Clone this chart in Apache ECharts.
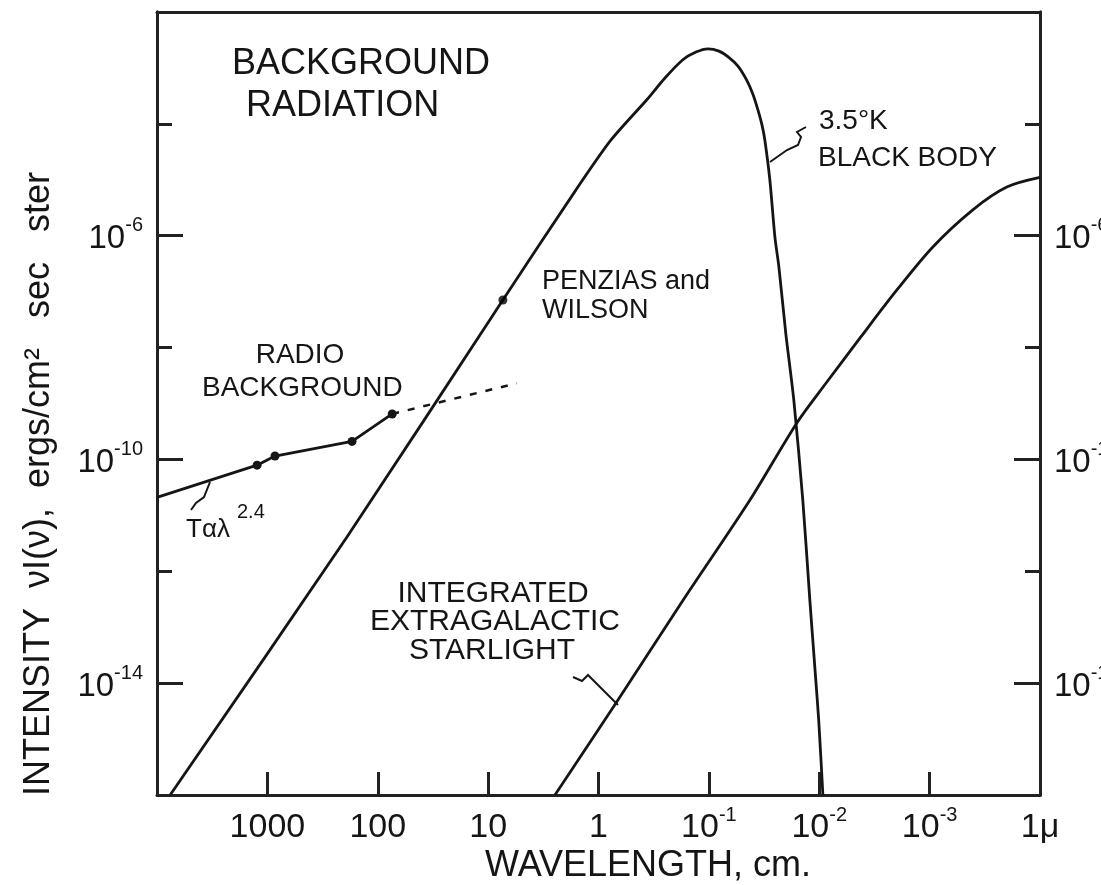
<!DOCTYPE html>
<html><head><meta charset="utf-8">
<script src="https://cdn.jsdelivr.net/npm/echarts@6/dist/echarts.min.js"></script>
<style>html,body{margin:0;padding:0;background:#fff}#c{width:1101px;height:885px}</style>
</head><body><div id="c"></div>
<script>
// ---- data (wavelength in cm, intensity in ergs/cm^2 sec ster) ----
const xTickValues = [1000, 100, 10, 1, 0.1, 0.01, 0.001];
const xLabelValues = [1000, 100, 10, 1, 0.1, 0.01, 0.001, 0.0001];
const xLabelTexts = ['{b|1000}', '{b|100}', '{b|10}', '{b|1}', '{b|10}{s|-1}', '{b|10}{s|-2}', '{b|10}{s|-3}', '{b|1μ}'];
const yMajorValues = [1e-14, 1e-10, 1e-6];
const yMajorTexts = ['{b|10}{s|-14}', '{b|10}{s|-10}', '{b|10}{s|-6}'];
const yMinorValues = [1e-12, 1e-8, 1e-4];

const blackBodyLambda = [7600, 190, 7.35, 1.6, 0.773, 0.365, 0.25, 0.172, 0.131, 0.102, 0.081, 0.066, 0.0545, 0.0453, 0.0399, 0.036, 0.033, 0.0311, 0.028, 0.0252, 0.0232, 0.0201, 0.0170, 0.0141, 0.01216, 0.01096, 0.0101, 0.00927];
const blackBodyIntensity = [1e-16, 4.1e-12, 7.1e-8, 6.6e-6, 5.1e-5, 2.7e-4, 6.6e-4, 1.4e-3, 1.92e-3, 2.2e-3, 2.0e-3, 1.55e-3, 1.08e-3, 6.0e-4, 3.4e-4, 1.8e-4, 9.5e-5, 5.1e-5, 9.8e-6, 9.3e-7, 2.75e-7, 1.8e-8, 1.15e-9, 1.9e-11, 3.0e-13, 1.9e-14, 2.1e-15, 1e-16];

const starlightLambda = [2.48, 0.68, 0.172, 0.0426, 0.01596, 0.0087, 0.0042, 0.00198, 0.000935, 0.000406, 0.0002, 0.0001];
const starlightIntensity = [1e-16, 4.7e-15, 3.0e-13, 1.86e-11, 4.5e-10, 2.3e-9, 1.55e-8, 1.07e-7, 6.3e-7, 2.9e-6, 7.4e-6, 1.1e-5];

const radioLambda = [10000, 1240, 853, 171, 74];
const radioIntensity = [2.1e-11, 7.9e-11, 1.15e-10, 2.1e-10, 6.5e-10];
const radioMeasured = [false, true, true, true, true];
const radioExtLambda = [74, 5.5];
const radioExtIntensity = [6.5e-10, 2.3e-9];

const penziasLambda = [7.35];
const penziasIntensity = [7.1e-8];

// ---- build ----
const FONT = '"Liberation Sans", Arial, sans-serif';
const INK = '#151515';
const pairs = (a, b) => a.map((v, i) => [v, b[i]]);
function pickText(values, texts) {
  return function (v) {
    const e = Math.round(Math.log10(v));
    for (let i = 0; i < values.length; i++) {
      if (Math.round(Math.log10(values[i])) === e) return texts[i];
    }
    return '';
  };
}
const richX = {
  b: { fontSize: 34, fontFamily: FONT, color: INK, verticalAlign: 'bottom', lineHeight: 40 },
  s: { fontSize: 20, fontFamily: FONT, color: INK, verticalAlign: 'top', lineHeight: 20 }
};
const richY = {
  b: { fontSize: 33, fontFamily: FONT, color: INK, verticalAlign: 'bottom', lineHeight: 40 },
  s: { fontSize: 20, fontFamily: FONT, color: INK, verticalAlign: 'top', lineHeight: 20 }
};
const axisLineStyle = { color: '#222', width: 3 };

function yAxisDef(pos, ticks, len, withLabels) {
  return {
    type: 'log', logBase: 10, min: 1e-16, max: 1e-2, position: pos,
    axisLine: { show: true, lineStyle: axisLineStyle },
    axisTick: { show: true, inside: true, length: len, customValues: ticks, lineStyle: { color: '#222', width: 3 } },
    axisLabel: withLabels ? { show: true, customValues: yMajorValues, formatter: pickText(yMajorValues, yMajorTexts), rich: richY, margin: 14 } : { show: false },
    splitLine: { show: false }, minorTick: { show: false }
  };
}

const chart = echarts.init(document.getElementById('c'), null, { renderer: 'canvas' });
chart.setOption({
  backgroundColor: '#fff',
  animation: false,
  grid: { left: 157, right: 61, top: 12, bottom: 90, show: false, outerBoundsMode: 'none', containLabel: false },
  xAxis: [{
    type: 'log', logBase: 10, min: 1e-4, max: 1e4, inverse: true,
    axisLine: { show: true, lineStyle: axisLineStyle },
    axisTick: { show: true, inside: true, length: 23, customValues: xTickValues, lineStyle: { color: '#222', width: 3 } },
    axisLabel: { show: true, customValues: xLabelValues, formatter: pickText(xLabelValues, xLabelTexts), rich: richX, margin: 10 },
    splitLine: { show: false }, minorTick: { show: false }
  }, {
    type: 'log', logBase: 10, min: 1e-4, max: 1e4, inverse: true, position: 'top',
    axisLine: { show: true, lineStyle: axisLineStyle },
    axisTick: { show: false }, axisLabel: { show: false }, splitLine: { show: false }
  }],
  yAxis: [
    yAxisDef('left', yMajorValues, 26, true),
    yAxisDef('left', yMinorValues, 15, false),
    yAxisDef('right', yMajorValues, 26, true),
    yAxisDef('right', yMinorValues, 15, false)
  ],
  series: [
    { type: 'line', name: '3.5°K black body', data: pairs(blackBodyLambda, blackBodyIntensity), showSymbol: false, smooth: 0.25, lineStyle: { color: INK, width: 2.8, join: 'round' } },
    { type: 'line', name: 'starlight', data: pairs(starlightLambda, starlightIntensity), showSymbol: false, smooth: 0.3, lineStyle: { color: INK, width: 2.8, join: 'round' } },
    { type: 'line', name: 'radio', data: radioLambda.map((v, i) => ({ value: [v, radioIntensity[i]], symbol: radioMeasured[i] ? 'circle' : 'none' })), symbolSize: 9, itemStyle: { color: INK }, lineStyle: { color: INK, width: 2.8 } },
    { type: 'line', name: 'radio ext', data: pairs(radioExtLambda, radioExtIntensity), showSymbol: false, lineStyle: { color: INK, width: 2.5, type: [7, 9] } },
    { type: 'scatter', name: 'Penzias and Wilson', data: pairs(penziasLambda, penziasIntensity), symbolSize: 9, z: 5, itemStyle: { color: '#000' } }
  ],
  graphic: [
    t(232, 64, 'BACKGROUND', 36), t(246, 106, 'RADIATION', 36),
    t(300, 355, 'RADIO', 28, 'center'), t(202, 388, 'BACKGROUND', 28),
    t(542, 282, 'PENZIAS and', 27), t(542, 311, 'WILSON', 27),
    t(819, 121, '3.5°K', 28), t(818, 158, 'BLACK BODY', 28),
    t(493, 594, 'INTEGRATED', 30, 'center'), t(495, 622, 'EXTRAGALACTIC', 30, 'center'), t(492, 651, 'STARLIGHT', 30, 'center'),
    t(186, 530, 'Tαλ', 26), t(237, 512, '2.4', 20),
    t(648, 866, 'WAVELENGTH, cm.', 36, 'center'),
    { type: 'text', x: 39, y: 484, rotation: Math.PI / 2, style: { text: 'INTENSITY  νI(ν),  ergs/cm²   sec   ster', fontSize: 36, fontFamily: FONT, fill: INK, align: 'center', verticalAlign: 'middle' } },
    pl([[770, 162], [787, 150], [798, 145], [801, 137], [797, 132], [806, 127]]),
    pl([[210, 482], [204, 497], [196, 503], [191, 510]]),
    pl([[573, 677], [582, 681], [588, 675], [598, 685], [618, 705]])
  ]
});
function t(x, y, s, size, align) {
  return { type: 'text', x: x, y: y, style: { text: s, fontSize: size, fontFamily: FONT, fill: INK, align: align || 'left', verticalAlign: 'middle' } };
}
function pl(points) {
  return { type: 'polyline', shape: { points: points }, style: { stroke: INK, lineWidth: 2, fill: null } };
}
</script>
</body></html>
